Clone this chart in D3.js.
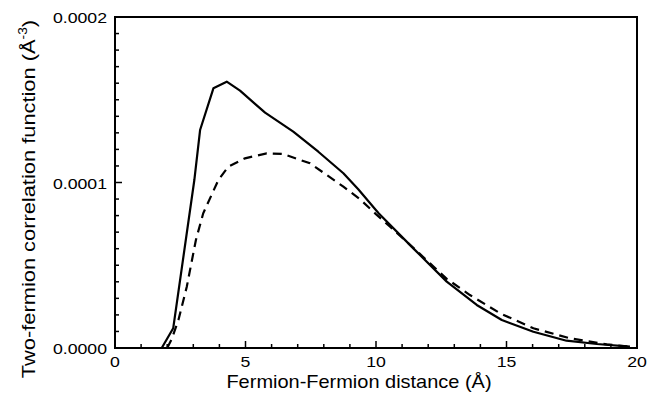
<!DOCTYPE html>
<html>
<head>
<meta charset="utf-8">
<script src="https://cdn.jsdelivr.net/npm/d3@7"></script>
<style>
  body { margin: 0; background: #fff; }
  text { font-family: "Liberation Sans", Arial, sans-serif; fill: #000; }
</style>
</head>
<body>
<div id="chart"></div>
<script>
// distance (Å) and correlation values
const solidX = [0, 1.79, 2.23, 3.04, 3.26, 3.77, 4.28, 4.79, 5.75, 6.83, 7.79, 8.75, 9.32, 10.1, 11.43, 12.71, 13.86, 14.82, 16.03, 17.3, 18.46, 19.73];
const solidY = [0, 0, 0.0000119, 0.0001015, 0.0001317, 0.0001569, 0.0001609, 0.0001555, 0.0001422, 0.0001307, 0.0001186, 0.0001056, 0.0000959, 0.0000814, 0.0000602, 0.0000401, 0.000026, 0.0000169, 0.0000098, 0.0000044, 0.0000024, 0.0000008];

const dashX = [2.0, 2.17, 2.43, 2.75, 3.1, 3.38, 3.96, 4.34, 4.98, 5.81, 6.45, 7.47, 8.75, 9.39, 10.03, 10.54, 11.43, 12.71, 13.6, 14.75, 16.03, 17.43, 18.84, 19.73];
const dashY = [0, 0.0000053, 0.0000169, 0.000037, 0.0000653, 0.0000814, 0.0001015, 0.0001095, 0.0001146, 0.0001176, 0.0001172, 0.0001116, 0.0000975, 0.0000898, 0.0000804, 0.0000733, 0.0000605, 0.0000418, 0.000032, 0.000021, 0.0000119, 0.0000059, 0.0000022, 0.0000008];

const xTicks = [0, 5, 10, 15, 20];
const yTicks = [0, 0.0001, 0.0002];

const width = 647, height = 396;
const margin = { top: 17, right: 10, bottom: 48, left: 115 };
const stretch = 1.18; // the original lettering is a wide Helvetica

const svg = d3.select('#chart').append('svg')
  .attr('width', width)
  .attr('height', height);

const x = d3.scaleLinear().domain([0, 20]).range([margin.left, width - margin.right]);
const y = d3.scaleLinear().domain([0, 0.0002]).range([height - margin.bottom, margin.top]);

const line = d3.line()
  .x(d => x(d[0]))
  .y(d => y(d[1]));

// curves
svg.append('path')
  .datum(solidX.map((v, i) => [v, solidY[i]]))
  .attr('d', line)
  .attr('fill', 'none')
  .attr('stroke', '#000')
  .attr('stroke-width', 2.2)
  .attr('stroke-linejoin', 'round');

svg.append('path')
  .datum(dashX.map((v, i) => [v, dashY[i]]))
  .attr('d', line)
  .attr('fill', 'none')
  .attr('stroke', '#000')
  .attr('stroke-width', 2.2)
  .attr('stroke-dasharray', '9,6');

// frame
svg.append('rect')
  .attr('x', x(0))
  .attr('y', y(0.0002))
  .attr('width', x(20) - x(0))
  .attr('height', y(0) - y(0.0002))
  .attr('fill', 'none')
  .attr('stroke', '#000')
  .attr('stroke-width', 2);

// inward ticks (minor + major)
const xAxis = svg.append('g');
xAxis.selectAll('line')
  .data(d3.range(0, 21, 1))
  .enter()
  .append('line')
  .attr('x1', d => x(d)).attr('x2', d => x(d))
  .attr('y1', y(0)).attr('y2', d => y(0) - (d % 5 === 0 ? 7 : 4))
  .attr('stroke', '#000').attr('stroke-width', 1.5);
xAxis.selectAll('text')
  .data(xTicks)
  .enter()
  .append('text')
  .attr('transform', d => `translate(${x(d)},${y(0) + 19}) scale(${stretch},1)`)
  .attr('text-anchor', 'middle')
  .style('font-size', '15px')
  .text(d => d);

const yAxis = svg.append('g');
yAxis.selectAll('line')
  .data(d3.range(0, 21, 1))
  .enter()
  .append('line')
  .attr('x1', x(0)).attr('x2', d => x(0) + (d % 10 === 0 ? 7 : 4))
  .attr('y1', d => y(d * 0.00001)).attr('y2', d => y(d * 0.00001))
  .attr('stroke', '#000').attr('stroke-width', 1.5);
yAxis.selectAll('text')
  .data(yTicks)
  .enter()
  .append('text')
  .attr('transform', d => `translate(${x(0) - 8},${y(d) + 6}) scale(${stretch},1)`)
  .attr('text-anchor', 'end')
  .style('font-size', '15px')
  .text(d => d3.format('.4f')(d));

// axis titles
svg.append('text')
  .attr('transform', `translate(359,388) scale(1.11,1)`)
  .attr('text-anchor', 'middle')
  .style('font-size', '18px')
  .text('Fermion-Fermion distance (Å)');

const yTitle = svg.append('text')
  .attr('transform', `translate(35,199) rotate(-90) scale(1.15,1)`)
  .attr('text-anchor', 'middle')
  .style('font-size', '19px');
yTitle.append('tspan').text('Two-fermion correlation function (Å');
yTitle.append('tspan').attr('dy', -8).style('font-size', '12px').text('-3');
yTitle.append('tspan').attr('dy', 8).text(')');
</script>
</body>
</html>
